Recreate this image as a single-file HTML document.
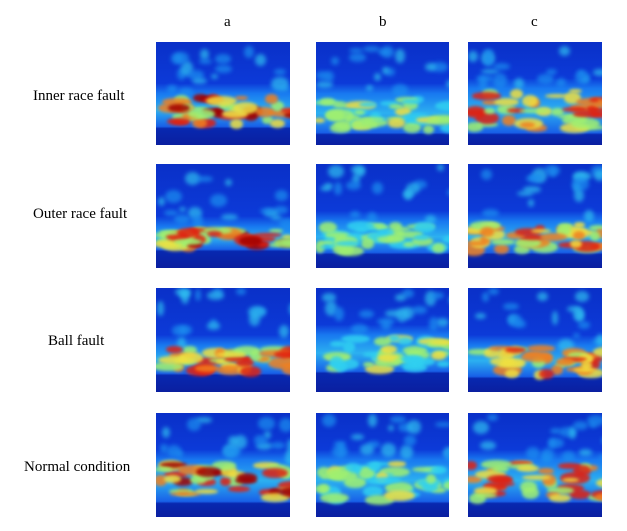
<!DOCTYPE html>
<html><head><meta charset="utf-8"><style>
body{margin:0;background:#fff;width:627px;height:531px;position:relative;overflow:hidden;font-family:"Liberation Serif",serif;}
.lbl{position:absolute;font-size:15px;color:#000;}
.col{position:absolute;top:14px;font-size:15px;}
.img{position:absolute;overflow:hidden;}
.blob{position:absolute;border-radius:50%;}
</style></head><body>
<div class="col" style="left:224px">a</div>
<div class="col" style="left:379px">b</div>
<div class="col" style="left:531px">c</div>
<div class="lbl" style="left:33px;top:88px">Inner race fault</div>
<div class="lbl" style="left:33px;top:206px">Outer race fault</div>
<div class="lbl" style="left:48px;top:333px">Ball fault</div>
<div class="lbl" style="left:24px;top:459px">Normal condition</div>
<div id="wrap"></div>
<script>
const xs=[156,316,468], ws=[134,133,134];
const ys=[42,164,288,413], hs=[103,104,104,104];
// band config: [bandTop, bandBottom, hotColor intensity 0..2]
const bands=[
 [[0.5,0.82,2],[0.5,0.88,1],[0.45,0.88,1.6]],
 [[0.6,0.82,2],[0.55,0.85,0.8],[0.55,0.85,1.6]],
 [[0.55,0.82,1.6],[0.45,0.8,0.9],[0.55,0.85,1.5]],
 [[0.45,0.85,1.8],[0.45,0.85,0.9],[0.45,0.85,1.5]]
];
const cols=['#1a8ff0','#30d0f0','#a0f070','#f0e040','#f08020','#e02010','#a00000'];
let seed=7;function rnd(){seed=(seed*9301+49297)%233280;return seed/233280;}
const wrap=document.getElementById('wrap');
for(let r=0;r<4;r++)for(let c=0;c<3;c++){
 const d=document.createElement('div');
 d.className='img';
 
 
 const [bt,bb,hot]=bands[r][c];
 d.style.left=xs[c]+'px';d.style.top=ys[r]+'px';d.style.width=ws[c]+'px';d.style.height=hs[r]+'px';
 d.style.background=`linear-gradient(to bottom,#0a30c8 0%,#0c3ad8 ${bt*100-10}%,#1878f0 ${bt*100}%,#2cb0f0 ${(bt+bb)*50}%,#1860e8 ${bb*100}%,#0828b0 ${bb*100+2}%,#0a1fa0 100%)`;
 const W=ws[c],H=hs[r];
 // upper speckles
 for(let i=0;i<18;i++){
  const b=document.createElement('div');b.className='blob';
  
  
  const w=6+rnd()*12,h=5+rnd()*10;
  b.style.left=(rnd()*W)+'px';b.style.top=(rnd()*bt*H*0.9)+'px';
  b.style.width=w+'px';b.style.height=h+'px';
  b.style.background=rnd()<0.5?'#1c90f0':'#30c0f0';b.style.filter='blur(2px)';b.style.opacity=0.7;
  d.appendChild(b);
 }
 // band blobs
 for(let i=0;i<40;i++){
  const b=document.createElement('div');b.className='blob';
  
  
  const w=10+rnd()*22,h=4+rnd()*8;
  b.style.left=(rnd()*W-5)+'px';b.style.top=((bt+rnd()*(bb-bt-0.06))*H)+'px';
  b.style.width=w+'px';b.style.height=h+'px';
  let k=Math.min(6,Math.floor(1+rnd()*2.5*hot+ (hot>1.4?1:0)));
  b.style.background=cols[k];b.style.filter='blur(1.5px)';b.style.opacity=0.85;
  d.appendChild(b);
 }
 wrap.appendChild(d);
}
</script>
</body></html>
